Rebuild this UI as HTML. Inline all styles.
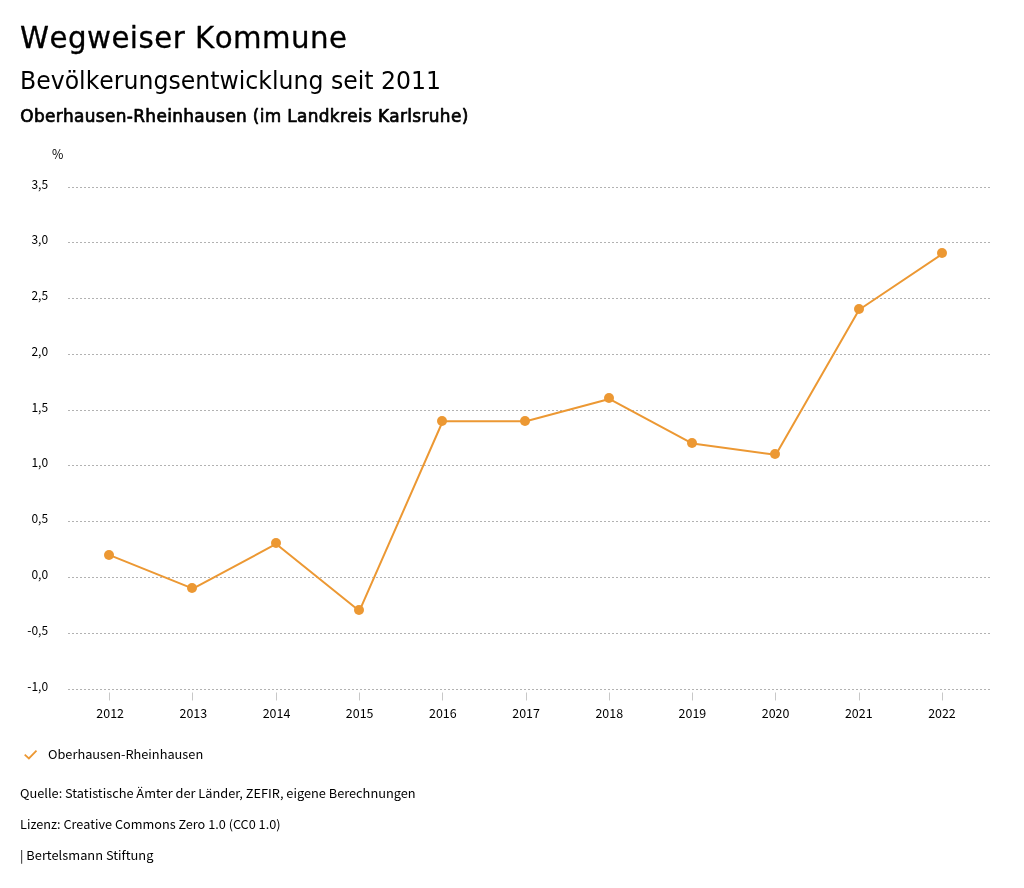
<!DOCTYPE html>
<html lang="de">
<head>
<meta charset="utf-8">
<title>Wegweiser Kommune</title>
<style>
html,body{margin:0;padding:0;background:#fff;}
svg{display:block;}
.h{font-family:'DejaVu Sans','Liberation Sans',sans-serif;fill:#000;font-kerning:none;stroke:#000;stroke-linejoin:round;}
.b{font-family:'Noto Sans CJK JP','Noto Sans CJK SC','Liberation Sans',sans-serif;fill:#000;}
.ax{font-size:12.3px;}
.ft{font-size:12.7px;}
</style>
</head>
<body>
<svg width="1024" height="888" viewBox="0 0 1024 888">
<rect width="1024" height="888" fill="#ffffff"/>
<text class="h" transform="translate(20,48) scale(1.0,1)" font-size="29.3" letter-spacing="0.46" stroke-width="0.3">Wegweiser Kommune</text>
<text class="h" transform="translate(20,89) scale(0.9833,1)" font-size="24" letter-spacing="0" stroke-width="0">Bevölkerungsentwicklung seit 2011</text>
<text class="h" transform="translate(20.3,122) scale(1.0,1)" font-size="16.9" letter-spacing="0.35" stroke-width="0.7">Oberhausen-Rheinhausen (im Landkreis Karlsruhe)</text>
<text class="b" transform="translate(52.00,159.20) scale(0.98,1)" font-size="12.6">%</text>
<g stroke="#b2b2b2" stroke-width="1" stroke-dasharray="2 2" fill="none" shape-rendering="crispEdges">
<line x1="68" y1="187.5" x2="990" y2="187.5"/>
<line x1="68" y1="242.5" x2="990" y2="242.5"/>
<line x1="68" y1="298.5" x2="990" y2="298.5"/>
<line x1="68" y1="354.5" x2="990" y2="354.5"/>
<line x1="68" y1="410.5" x2="990" y2="410.5"/>
<line x1="68" y1="465.5" x2="990" y2="465.5"/>
<line x1="68" y1="521.5" x2="990" y2="521.5"/>
<line x1="68" y1="577.5" x2="990" y2="577.5"/>
<line x1="68" y1="633.5" x2="990" y2="633.5"/>
<line x1="68" y1="689.5" x2="990" y2="689.5"/>
</g>
<g>
<text class="b" transform="translate(48.10,189.10) scale(0.955,1)" font-size="12.6" text-anchor="end">3,5</text>
<text class="b" transform="translate(48.10,244.10) scale(0.955,1)" font-size="12.6" text-anchor="end">3,0</text>
<text class="b" transform="translate(48.10,300.10) scale(0.955,1)" font-size="12.6" text-anchor="end">2,5</text>
<text class="b" transform="translate(48.10,356.10) scale(0.955,1)" font-size="12.6" text-anchor="end">2,0</text>
<text class="b" transform="translate(48.10,412.10) scale(0.955,1)" font-size="12.6" text-anchor="end">1,5</text>
<text class="b" transform="translate(48.10,467.10) scale(0.955,1)" font-size="12.6" text-anchor="end">1,0</text>
<text class="b" transform="translate(48.10,523.10) scale(0.955,1)" font-size="12.6" text-anchor="end">0,5</text>
<text class="b" transform="translate(48.10,579.10) scale(0.955,1)" font-size="12.6" text-anchor="end">0,0</text>
<text class="b" transform="translate(48.10,635.10) scale(0.955,1)" font-size="12.6" text-anchor="end">-0,5</text>
<text class="b" transform="translate(48.10,691.10) scale(0.955,1)" font-size="12.6" text-anchor="end">-1,0</text>
</g>
<g stroke="#c8c8c8" stroke-width="1">
<line x1="109.5" y1="692.5" x2="109.5" y2="700.5"/>
<line x1="192.5" y1="692.5" x2="192.5" y2="700.5"/>
<line x1="276.5" y1="692.5" x2="276.5" y2="700.5"/>
<line x1="359.5" y1="692.5" x2="359.5" y2="700.5"/>
<line x1="442.5" y1="692.5" x2="442.5" y2="700.5"/>
<line x1="526.5" y1="692.5" x2="526.5" y2="700.5"/>
<line x1="609.5" y1="692.5" x2="609.5" y2="700.5"/>
<line x1="692.5" y1="692.5" x2="692.5" y2="700.5"/>
<line x1="775.5" y1="692.5" x2="775.5" y2="700.5"/>
<line x1="859.5" y1="692.5" x2="859.5" y2="700.5"/>
<line x1="942.5" y1="692.5" x2="942.5" y2="700.5"/>
</g>
<g>
<text class="b" transform="translate(110.14,718.20) scale(0.99,1)" font-size="12.6" text-anchor="middle">2012</text>
<text class="b" transform="translate(193.32,718.20) scale(0.99,1)" font-size="12.6" text-anchor="middle">2013</text>
<text class="b" transform="translate(276.50,718.20) scale(0.99,1)" font-size="12.6" text-anchor="middle">2014</text>
<text class="b" transform="translate(359.68,718.20) scale(0.99,1)" font-size="12.6" text-anchor="middle">2015</text>
<text class="b" transform="translate(442.87,718.20) scale(0.99,1)" font-size="12.6" text-anchor="middle">2016</text>
<text class="b" transform="translate(526.05,718.20) scale(0.99,1)" font-size="12.6" text-anchor="middle">2017</text>
<text class="b" transform="translate(609.23,718.20) scale(0.99,1)" font-size="12.6" text-anchor="middle">2018</text>
<text class="b" transform="translate(692.42,718.20) scale(0.99,1)" font-size="12.6" text-anchor="middle">2019</text>
<text class="b" transform="translate(775.60,718.20) scale(0.99,1)" font-size="12.6" text-anchor="middle">2020</text>
<text class="b" transform="translate(858.78,718.20) scale(0.99,1)" font-size="12.6" text-anchor="middle">2021</text>
<text class="b" transform="translate(941.96,718.20) scale(0.99,1)" font-size="12.6" text-anchor="middle">2022</text>
</g>
<polyline points="109.64,555.14 192.91,588.61 276.18,543.98 359.45,610.92 442.73,421.27 526.00,421.27 609.27,398.96 692.55,443.58 775.82,454.74 859.09,309.72 942.36,253.94" fill="none" stroke="#ec9833" stroke-width="2" stroke-linejoin="round" stroke-linecap="round"/>
<g fill="#ec9833">
<circle cx="109.0" cy="555.0" r="5"/>
<circle cx="192.0" cy="588.0" r="5"/>
<circle cx="276.0" cy="543.0" r="5"/>
<circle cx="359.0" cy="610.0" r="5"/>
<circle cx="442.0" cy="421.0" r="5"/>
<circle cx="525.0" cy="421.0" r="5"/>
<circle cx="609.0" cy="398.0" r="5"/>
<circle cx="692.0" cy="443.0" r="5"/>
<circle cx="775.0" cy="454.0" r="5"/>
<circle cx="859.0" cy="309.0" r="5"/>
<circle cx="942.0" cy="253.0" r="5"/>
</g>
<polyline points="24.7,754.6 28.9,758.4 36.5,750.6" fill="none" stroke="#ec9833" stroke-width="1.8"/>
<text class="b" transform="translate(48.00,759.00) scale(1.032,1)" font-size="12.4">Oberhausen-Rheinhausen</text>
<text class="b" transform="translate(20.00,798.00) scale(1.032,1)" font-size="12.4">Quelle: Statistische Ämter der Länder, ZEFIR, eigene Berechnungen</text>
<text class="b" transform="translate(20.00,829.00) scale(1.025,1)" font-size="12.4">Lizenz: Creative Commons Zero 1.0 (CC0 1.0)</text>
<text class="b" transform="translate(20.00,860.00) scale(1.036,1)" font-size="12.4">| Bertelsmann Stiftung</text>
</svg>
</body>
</html>
